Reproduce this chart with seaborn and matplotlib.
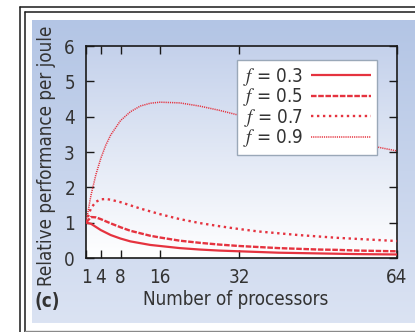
import numpy as np
import pandas as pd
import matplotlib
matplotlib.use("Agg")
import matplotlib.pyplot as plt
import seaborn as sns
from matplotlib.lines import Line2D
from matplotlib.colors import to_rgb

# ---- data ----
processors = [1, 2, 3, 4, 5, 6, 8, 10, 12, 14, 16, 20, 24, 28, 32, 36, 40, 44, 48, 52, 56, 60, 64]
f03 = [1.00, 0.97, 0.88, 0.79, 0.72, 0.65, 0.55, 0.47, 0.42, 0.37, 0.34, 0.28, 0.24, 0.21, 0.19,
       0.17, 0.15, 0.14, 0.13, 0.12, 0.11, 0.105, 0.10]
f05 = [1.00, 1.16, 1.15, 1.10, 1.04, 0.98, 0.87, 0.77, 0.70, 0.63, 0.58, 0.49, 0.43, 0.38, 0.34,
       0.31, 0.28, 0.26, 0.24, 0.23, 0.21, 0.20, 0.19]
f07 = [1.00, 1.41, 1.59, 1.66, 1.67, 1.65, 1.58, 1.49, 1.40, 1.32, 1.24, 1.10, 0.99, 0.90, 0.82,
       0.75, 0.70, 0.65, 0.61, 0.57, 0.54, 0.51, 0.48]
f09 = [1.00, 1.77, 2.36, 2.82, 3.19, 3.48, 3.89, 4.14, 4.30, 4.38, 4.41, 4.39, 4.30, 4.18, 4.04,
       3.90, 3.76, 3.63, 3.49, 3.37, 3.25, 3.14, 3.03]
labels = [r"$f$ = 0.3", r"$f$ = 0.5", r"$f$ = 0.7", r"$f$ = 0.9"]
xticks = [1, 4, 8, 16, 32, 64]
yticks = [0, 1, 2, 3, 4, 5, 6]

series = [f03, f05, f07, f09]
df = pd.concat([pd.DataFrame({"n": processors, "v": s, "f": lab}) for s, lab in zip(series, labels)])

sns.set_theme(style="ticks")
plt.rcParams["font.family"] = ["DejaVu Sans"]
plt.rcParams["font.stretch"] = "condensed"
plt.rcParams["mathtext.fontset"] = "stix"
plt.rcParams["lines.scale_dashes"] = False

FS = 13.5

W, H = 415, 332
fig = plt.figure(figsize=(W / 100, H / 100), dpi=100, facecolor="white")

def fx(x):
    return x / W

def fy(y):
    return 1 - y / H

# blue panel with gradient
bg = fig.add_axes([fx(32), fy(323), fx(415) - fx(32), fy(20) - fy(323)], zorder=0)
top_c, bot_c = np.array(to_rgb("#b3c5e5")), np.array(to_rgb("#dbe3f3"))
t = np.linspace(0, 1, 256)[:, None, None]
grad = top_c[None, None, :] * (1 - t) + bot_c[None, None, :] * t
bg.imshow(grad, aspect="auto", extent=[0, 1, 0, 1], interpolation="bilinear")
bg.set_xlim(0, 1); bg.set_ylim(0, 1)
bg.axis("off")

# frame lines
dark = "#1a1a1a"
for line in [
    ([fx(20), fx(20)], [fy(7), 0]),
    ([fx(20), 1], [fy(7), fy(7)]),
    ([fx(24.5), fx(24.5)], [fy(11.5), 0]),
    ([fx(24.5), 1], [fy(11.5), fy(11.5)]),
]:
    fig.add_artist(Line2D(line[0], line[1], color=dark, lw=1.1, transform=fig.transFigure))
fig.add_artist(Line2D([fx(24.5), 1], [fy(330.5), fy(330.5)], color="#8a8a8a", lw=1.0,
                      transform=fig.transFigure))

# main axes
ax = fig.add_axes([fx(86), fy(258), fx(397) - fx(86), fy(46) - fy(258)], zorder=2)
ax.set_facecolor("none")
ptop, pbot = np.array(to_rgb("#c4d1eb")), np.array(to_rgb("#ffffff"))
grad2 = ptop[None, None, :] * (1 - t) + pbot[None, None, :] * t
ax.imshow(grad2, aspect="auto", extent=[0, 1, 0, 1], transform=ax.transAxes,
          interpolation="bilinear", zorder=0)

red = "#e5333f"
sns.lineplot(data=df, x="n", y="v", hue="f", palette=[red] * 4, ax=ax, legend=False, zorder=3)

styles = [
    (1.6, None),
    (1.7, (4.0, 1.2)),
    (1.7, (1.7, 2.6)),
    (1.1, (0.85, 0.7)),
]
for ln, lab, (lw, dash) in zip(ax.get_lines(), labels, styles):
    ln.set_linewidth(lw)
    ln.set_label(lab)
    if dash is not None:
        ln.set_dashes(dash)
    ln.set_solid_capstyle("butt")
    ln.set_dash_capstyle("butt")

ax.set_xlim(1, 64)
ax.set_ylim(0, 6)
ax.set_xticks(xticks)
ax.set_yticks(yticks)
txt = "#333333"
ax.tick_params(direction="in", length=6, width=1.0, top=True, right=True,
               labelsize=FS, colors=dark, labelcolor=txt)
ax.tick_params(axis="x", pad=7.5)
ax.tick_params(axis="y", pad=8)
for sp in ax.spines.values():
    sp.set_linewidth(1.2)
    sp.set_color(dark)
    sp.set_visible(True)

ax.set_xlabel("Number of processors", fontsize=FS, color=txt)
ax.set_ylabel("Relative performance per joule", fontsize=FS, color=txt)
ax.xaxis.set_label_coords((236 - 86) / 311, (258 - 290) / 212)
ax.yaxis.set_label_coords((56 - 86) / 311, (258 - 155.5) / 212)

leg = ax.legend(loc="upper right", bbox_to_anchor=((377 - 86) / 311, (258 - 60) / 212),
                markerfirst=False, fontsize=FS, handlelength=3.2, handletextpad=0.45,
                labelspacing=-0.08, borderpad=0.3, borderaxespad=0, fancybox=False,
                framealpha=1, edgecolor="#9aa8b8", facecolor="white")
leg.get_frame().set_linewidth(1.0)
for tx in leg.get_texts():
    tx.set_color(txt)

fig.text(fx(35), fy(301.5), "(c)", fontsize=FS, fontweight="bold", color=txt,
         ha="left", va="center")

fig.savefig("out.png", dpi=100, facecolor="white")
